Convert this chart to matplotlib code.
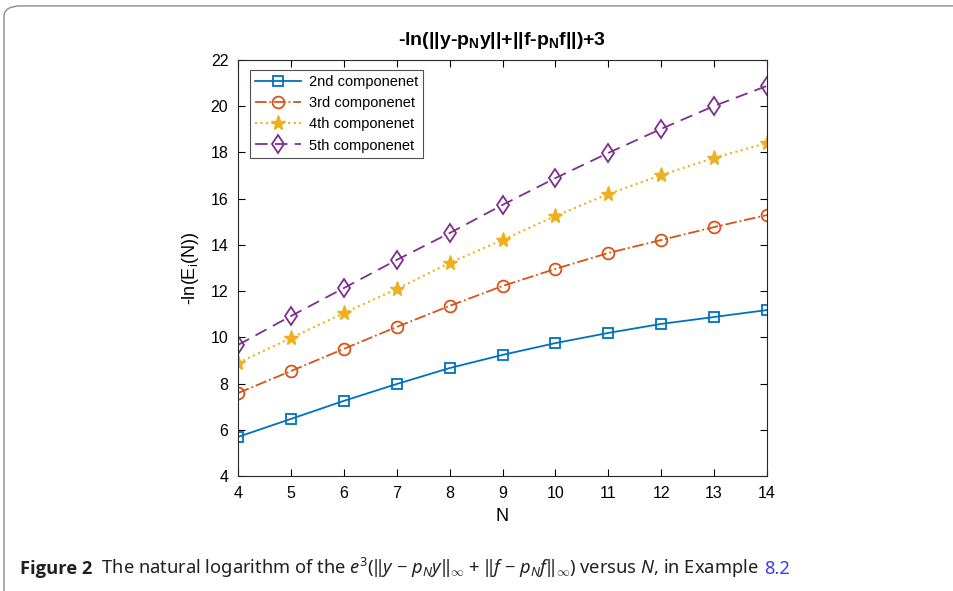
import matplotlib
matplotlib.use("Agg")
import matplotlib.pyplot as plt
from matplotlib.patches import FancyBboxPatch

# data
N = [4, 5, 6, 7, 8, 9, 10, 11, 12, 13, 14]
comp2 = [5.69, 6.47, 7.25, 7.98, 8.67, 9.24, 9.75, 10.19, 10.58, 10.88, 11.18]
comp3 = [7.59, 8.54, 9.50, 10.45, 11.36, 12.22, 12.96, 13.65, 14.21, 14.77, 15.29]
comp4 = [8.89, 9.97, 11.05, 12.09, 13.22, 14.21, 15.25, 16.20, 17.02, 17.76, 18.41]
comp5 = [9.67, 10.92, 12.13, 13.35, 14.51, 15.73, 16.89, 17.98, 19.02, 20.01, 20.88]
names = ['2nd componenet', '3rd componenet', '4th componenet', '5th componenet']

plt.rcParams['font.family'] = ['Liberation Sans', 'DejaVu Sans']
plt.rcParams['mathtext.fontset'] = 'custom'
plt.rcParams['mathtext.rm'] = 'Noto Sans'
plt.rcParams['mathtext.it'] = 'Noto Sans:italic'
plt.rcParams['mathtext.bf'] = 'Liberation Sans:bold'

fig = plt.figure(figsize=(9.54, 5.91), dpi=100)
ax = fig.add_axes([0.2495, 0.1946, 0.5545, 0.7039])

ax.plot(N, comp2, '-', color='#0072BD', lw=1.3, marker='s', ms=6.5, mfc='none', mew=1.3, label=names[0])
ax.plot(N, comp3, '-.', color='#D95319', lw=1.3, marker='o', ms=8.5, mfc='none', mew=1.3, label=names[1])
ax.plot(N, comp4, ':', color='#EDB120', lw=1.5, marker='*', ms=11, mfc='#EDB120', mew=1.0, label=names[2])
ax.plot(N, comp5, '--', color='#7E2F8E', lw=1.3, marker='d', ms=9.5, mfc='none', mew=1.3, label=names[3],
        dashes=(7, 4))

ax.set_xlim(4, 14)
ax.set_ylim(4, 22)
ax.set_xticks(range(4, 15))
ax.set_yticks(range(4, 23, 2))
ax.tick_params(direction='in', top=True, right=True, length=5, width=0.8, labelsize=11.5, pad=7)
for s in ax.spines.values():
    s.set_linewidth(0.8)
    s.set_color('#262626')

ax.set_xlabel('N', fontsize=13, labelpad=5)
ax.set_ylabel(r'-ln(E$_\mathregular{i}$(N))', fontsize=13, labelpad=7)
ax.set_title(r'-ln(||y-p$_\mathbf{N}$y||+||f-p$_\mathbf{N}$f||)+3', fontsize=14,
             fontweight='bold', pad=11)

leg = ax.legend(loc='upper left', fontsize=10.5, frameon=True, fancybox=False, edgecolor='#262626',
                borderpad=0.35, labelspacing=0.5, handlelength=3.2, handletextpad=0.5,
                bbox_to_anchor=(0.022, 0.977), borderaxespad=0.0)
leg.get_frame().set_linewidth(0.8)

# rounded page frame
frame = FancyBboxPatch((4 / 954, -0.05), 1.1, 1.04, boxstyle='round,pad=0,rounding_size=0.018',
                       transform=fig.transFigure, fill=False, edgecolor='#8a8a8a', lw=1.0)
fig.patches.append(frame)

cap_color = '#231f20'
cap_y = 1 - 574 / 591
t1 = fig.text(20 / 954, cap_y, 'Figure 2', fontsize=13.2, fontweight='bold',
              family=['Open Sans', 'DejaVu Sans'], color=cap_color, va='baseline')
t2 = fig.text(0, cap_y, r'  The natural logarithm of the $e^3$($\Vert y$ − $p_N y\Vert_\infty$ + $\Vert f$ − $p_N f\Vert_\infty$) versus $N$, in Example',
              fontsize=13.2, family=['Noto Sans', 'DejaVu Sans'], color=cap_color, va='baseline')
fig.canvas.draw()
r = fig.canvas.get_renderer()
bb = t1.get_window_extent(r)
t2.set_position((bb.x1 / fig.bbox.width, cap_y))
fig.canvas.draw()
bb2 = t2.get_window_extent(r)
fig.text(bb2.x1 / fig.bbox.width + 5 / 954, cap_y, '8.2', fontsize=13.2, family=['Noto Sans', 'DejaVu Sans'],
         color='#3a3aff', va='baseline')

fig.savefig('out.png', dpi=100)
